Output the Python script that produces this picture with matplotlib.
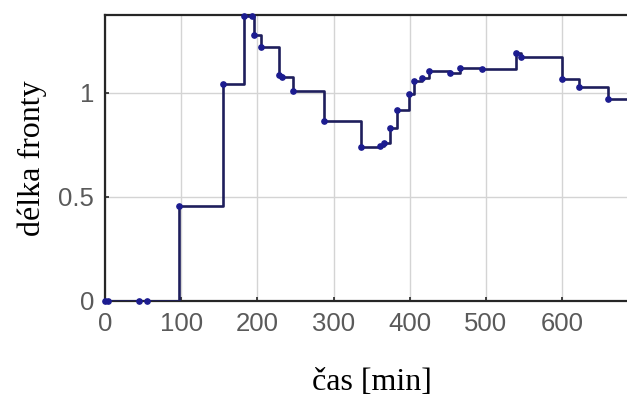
import matplotlib.pyplot as plt

# -------------------- Data ----------------------- #
t_min = [0, 4, 45, 55, 97, 155, 183, 193, 195, 205, 229, 233, 247, 287, 336,
         361, 366, 374, 384, 399, 406, 416, 425, 453, 466, 495, 540, 546,
         600, 622, 661, 690]
delka = [0.0, 0.0, 0.0, 0.0, 0.457, 1.043, 1.37, 1.37, 1.28, 1.22, 1.087, 1.075,
         1.01, 0.865, 0.74, 0.745, 0.76, 0.832, 0.918, 0.995, 1.058, 1.07,
         1.106, 1.096, 1.12, 1.115, 1.19, 1.175, 1.067, 1.03, 0.97, 0.97]

xticks = [0, 100, 200, 300, 400, 500, 600]
yticks = [0, 0.5, 1]
yticklabels = ['0', '0.5', '1']

# -------------------- Plot ----------------------- #
fig = plt.figure(figsize=(6.27, 3.99), dpi=100)
ax = fig.add_axes([105 / 627, 1 - 301 / 399, 700 * 0.7617 / 627, (301 - 15) / 399])

ax.step(t_min, delka, where='post', color='#1e1e5c', linewidth=1.9, zorder=3)
ax.plot(t_min, delka, 'o', color='#1c1c90', markersize=3.8, zorder=4, clip_on=False)

ax.set_xlim(0, 700)
ax.set_ylim(0, 1.375)
ax.set_xticks(xticks)
ax.set_yticks(yticks)
ax.set_yticklabels(yticklabels)
ax.grid(True, color='#d4d4d4', linewidth=1.0)
ax.set_axisbelow(True)

ax.tick_params(direction='in', length=3, width=1.2, colors='#262626',
               labelcolor='#5a5a5a', labelsize=18.5, pad=8)
for lab in ax.get_xticklabels() + ax.get_yticklabels():
    lab.set_family('Liberation Sans')
for sp in ax.spines.values():
    sp.set_color('#262626')
    sp.set_linewidth(1.6)

ax.set_xlabel('čas [min]', family='Liberation Serif', fontsize=23, labelpad=23)
ax.set_ylabel('délka fronty', family='Liberation Serif', fontsize=23, labelpad=8)

fig.savefig('out.png', dpi=100)
